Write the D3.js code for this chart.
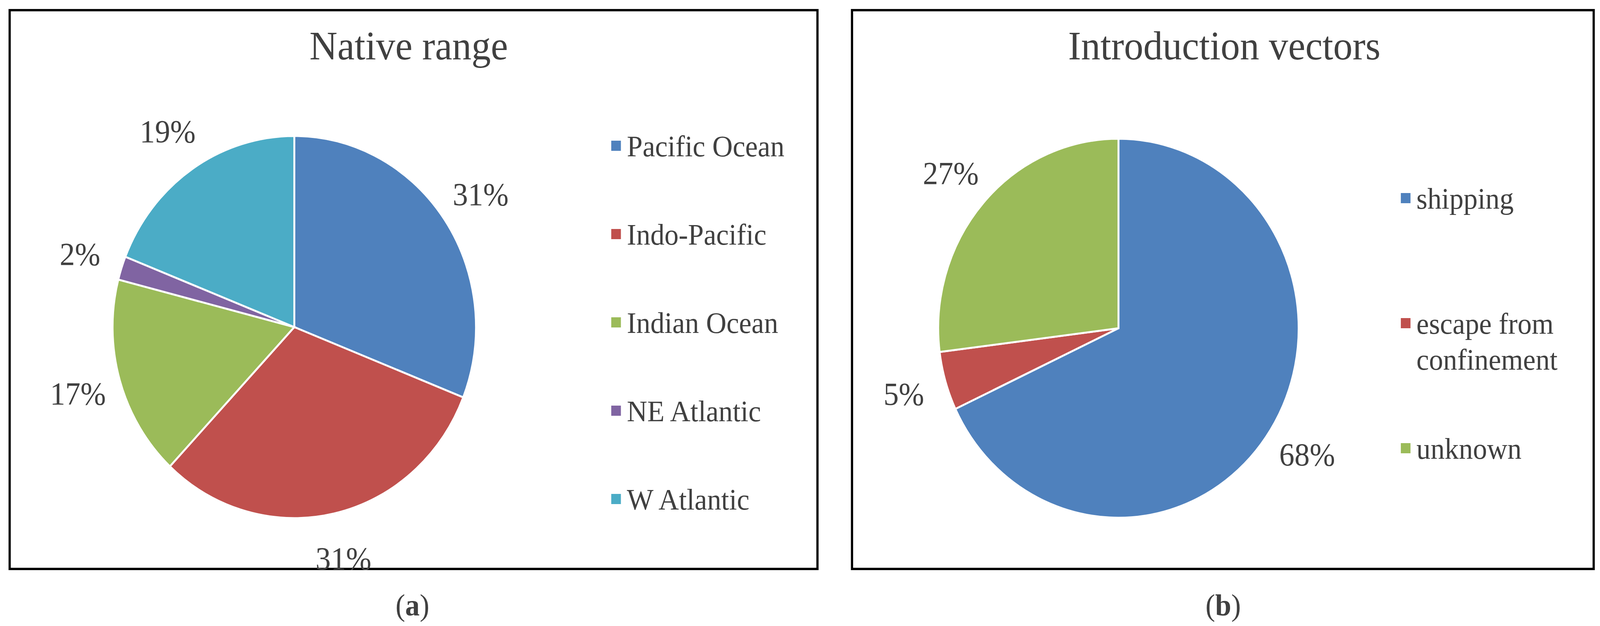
<!DOCTYPE html>
<html lang="en">
<head>
<meta charset="UTF-8">
<title>Native range / Introduction vectors</title>
<script src="https://cdn.jsdelivr.net/npm/d3@7"></script>
<style>
  html, body { margin: 0; padding: 0; background: #fff; overflow: hidden; }
  svg { display: block; width: 100vw; height: 100vh; }
  text { font-family: "Liberation Serif", "DejaVu Serif", serif; fill: #404040; }
</style>
</head>
<body>
<svg id="chart" viewBox="0 0 4306 1602" preserveAspectRatio="none"></svg>
<script>
// data
var rangeCategories = ["Pacific Ocean", "Indo-Pacific", "Indian Ocean", "NE Atlantic", "W Atlantic"];
var rangeValues = [31, 31, 17, 2, 19];
var vectorCategories = [["shipping"], ["escape from", "confinement"], ["unknown"]];
var vectorValues = [68, 5, 27];
var palette = ["#4f81bd", "#c0504d", "#9bbb59", "#8064a2", "#4bacc6"];

var svg = d3.select("#chart");

function panel(opt) {
  var g = svg.append("g");
  g.append("rect")
    .attr("x", opt.box[0]).attr("y", opt.box[1])
    .attr("width", opt.box[2]).attr("height", opt.box[3])
    .attr("fill", "#fff").attr("stroke", "#000").attr("stroke-width", 6);

  g.append("text")
    .attr("x", opt.titleX).attr("y", 152)
    .attr("text-anchor", "middle").attr("font-size", 104)
    .text(opt.title);

  var pie = d3.pie().sort(null).value(d => d);
  var arcs = pie(opt.values);
  var arc = d3.arc().innerRadius(0).outerRadius(opt.r);
  var labelArc = d3.arc().innerRadius(opt.r * 1.24).outerRadius(opt.r * 1.24);

  var pg = g.append("g").attr("transform", "translate(" + opt.cx + "," + opt.cy + ")");
  pg.selectAll("path").data(arcs).enter().append("path")
    .attr("d", arc)
    .attr("fill", (d, i) => palette[i])
    .attr("stroke", "#fff").attr("stroke-width", 5);

  pg.selectAll("text").data(arcs).enter().append("text")
    .attr("transform", d => "translate(" + labelArc.centroid(d) + ")")
    .attr("dy", "0.35em")
    .attr("text-anchor", "middle").attr("font-size", 82)
    .text(d => d.data + "%");

  var lg = g.append("g");
  opt.legend.forEach(function(lines, i) {
    var y = opt.legendY[i];
    lg.append("rect")
      .attr("x", opt.legendX).attr("y", y - 40)
      .attr("width", 26).attr("height", 26)
      .attr("fill", palette[i]);
    var t = lg.append("text")
      .attr("x", opt.legendX + 42).attr("y", y)
      .attr("font-size", 76);
    lines.forEach(function(s, j) {
      t.append("tspan").attr("x", opt.legendX + 42).attr("dy", j ? 92 : 0).text(s);
    });
  });

  g.append("text")
    .attr("x", opt.capX).attr("y", 1575)
    .attr("text-anchor", "middle").attr("font-size", 78)
    .html(opt.caption);
}

panel({
  box: [26, 26, 2174, 1430],
  title: "Native range", titleX: 1100,
  values: rangeValues, cx: 792, cy: 837, r: 489,
  legend: rangeCategories.map(d => [d]),
  legendX: 1645, legendY: [400, 626, 852, 1078, 1304],
  capX: 1110, caption: "(<tspan font-weight='bold'>a</tspan>)"
});

panel({
  box: [2293, 26, 1996, 1430],
  title: "Introduction vectors", titleX: 3295,
  values: vectorValues, cx: 3010, cy: 840, r: 485,
  legend: vectorCategories,
  legendX: 3770, legendY: [534, 854, 1174],
  capX: 3292, caption: "(<tspan font-weight='bold'>b</tspan>)"
});
</script>
</body>
</html>
